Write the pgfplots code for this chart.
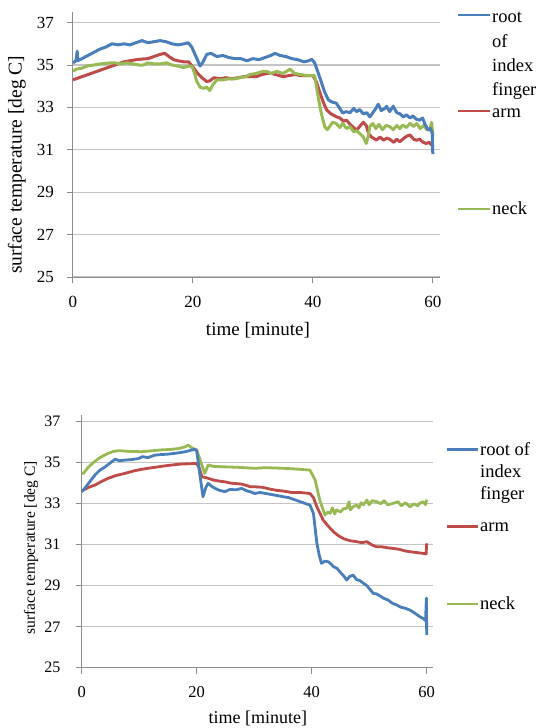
\documentclass[border=0pt]{standalone}
\usepackage{fontspec}
\setmainfont{Liberation Serif}
\usepackage{pgfplots}
\pgfplotsset{compat=1.18}
\definecolor{cblue}{HTML}{4A7EBB}
\definecolor{cred}{HTML}{BE4B48}
\definecolor{cgreen}{HTML}{98B954}
\definecolor{axgray}{HTML}{8C8C8C}
\definecolor{gridgray}{HTML}{C4C4C4}
\pgfplotsset{excel/.style={
  scale only axis,
  axis lines*=left,
  axis line style={draw=axgray, line width=1pt, -},
  tick align=outside,
  major tick length=6pt,
  tick style={draw=axgray, line width=1pt},
  ymajorgrids,
  grid style={draw=gridgray, line width=1.2pt},
  xmin=0, ymin=25,
  xtick={0,20,40,60},
  ytick={25,27,29,31,33,35,37},
  /pgf/number format/assume math mode=true,
  every axis plot/.append style={line width=3pt, line join=round, no markers},
}}
\begin{document}
\begin{tikzpicture}
\useasboundingbox (0,0) rectangle (540pt,-728pt);
% ---------------- top chart ----------------
\begin{axis}[excel,
  at={(73pt,-277pt)}, anchor=south west,
  width=367pt, height=265pt,
  xmax=61.2, ymax=37.5,
  yticklabel style={font=\fontsize{17}{17}\selectfont, anchor=east, inner sep=0pt, xshift=-13pt},
  xticklabel style={font=\fontsize{17}{17}\selectfont, anchor=north, inner sep=0pt, yshift=-13pt},
  xlabel={time [minute]},
  ylabel={surface temperature [deg C]},
  xlabel style={font=\fontsize{19}{19}\selectfont, at={(axis description cs:0.504,-0.2)}, anchor=center},
  ylabel style={font=\fontsize{19.5}{19.5}\selectfont, at={(axis description cs:-0.153,0.423)}, anchor=center, rotate=0},
]
\addplot[cred] coordinates {
(0,34.3) (0.5,34.35) (1.5,34.45) (2.5,34.55) (3.5,34.65) (4.5,34.75) (5.5,34.85) (6.5,34.95) (7.5,35.05) (8.5,35.15) (9.5,35.2) (10.5,35.25) (11.5,35.28) (12.5,35.3) (13.5,35.4) (14.5,35.5) (15.3,35.55) (16,35.4) (16.8,35.25) (17.5,35.2) (18.5,35.15) (19.3,35.15) (20,34.9) (20.8,34.6) (21.5,34.4) (22.3,34.22) (22.8,34.25) (23.5,34.4) (24.5,34.35) (25.5,34.4) (26.5,34.35) (27.5,34.4) (28.5,34.45) (29.5,34.45) (30.6,34.45) (31.5,34.55) (32.8,34.62) (33.8,34.55) (35,34.45) (36,34.5) (37,34.55) (38,34.5) (39,34.5) (40,34.5) (40.6,34.2) (41.2,33.67) (41.8,33.2) (42.3,32.88) (43,32.7) (43.9,32.56) (44.5,32.5) (45.1,32.35) (45.6,32.4) (46.2,32.2) (46.8,32.05) (47.3,31.93) (47.8,32.1) (48.4,32.3) (48.9,32.15) (49.3,31.75) (49.8,31.6) (50.6,31.46) (51.2,31.6) (51.8,31.45) (52.3,31.55) (52.8,31.5) (53.5,31.35) (54,31.5) (54.5,31.38) (55.2,31.55) (55.7,31.65) (56.2,31.7) (56.8,31.5) (57.3,31.45) (57.8,31.5) (58.4,31.35) (58.9,31.3) (59.4,31.35) (59.8,31.23) (60,31.15)
};
\addplot[cgreen] coordinates {
(0,34.7) (0.5,34.8) (1.5,34.85) (2.3,34.95) (3.5,35.0) (4.5,35.05) (5.5,35.08) (6.2,35.1) (7,35.1) (8,35.05) (9,35.1) (10,35.05) (11,35.0) (11.7,35.0) (12.5,35.1) (13.5,35.05) (14.5,35.05) (15.6,35.1) (16.5,35.0) (17.5,34.95) (18.4,34.88) (19.2,34.95) (19.8,34.95) (20.3,34.6) (20.6,34.25) (21.2,33.95) (21.8,33.9) (22.3,33.95) (22.8,33.8) (23.4,34.1) (24,34.3) (25,34.3) (26,34.35) (27,34.35) (27.8,34.4) (28.8,34.45) (29.5,34.55) (30.5,34.6) (31.7,34.7) (32.3,34.7) (33,34.6) (34,34.7) (35,34.6) (36.2,34.8) (37,34.6) (38,34.55) (39,34.5) (39.5,34.5) (40.3,34.5) (40.7,33.8) (41.2,33.0) (41.6,32.5) (42,32.08) (42.4,31.95) (42.8,32.1) (43.3,32.3) (43.9,32.24) (44.5,32.05) (45,32.25) (45.6,32.0) (46.2,32.1) (46.8,31.85) (47.3,31.9) (47.8,31.77) (48.4,31.6) (48.9,31.3) (49.2,31.6) (49.5,32.1) (50,32.24) (50.5,32.0) (51,32.2) (51.6,31.95) (52.2,32.15) (52.8,32.1) (53.4,31.95) (54,32.15) (54.5,32.0) (55,32.17) (55.6,32.05) (56.2,32.25) (56.8,32.1) (57.3,32.24) (57.9,32.0) (58.5,32.15) (59,31.95) (59.5,31.93) (59.8,32.3) (60,31.7)
};
\addplot[cblue] coordinates {
(0,35.1) (0.5,35.2) (0.7,35.65) (0.8,35.2) (1.5,35.3) (2.5,35.45) (3.5,35.6) (4.5,35.75) (5.5,35.85) (6.5,36.0) (7.5,35.95) (8.5,36.0) (9.5,35.95) (10.5,36.05) (11.5,36.15) (12.5,36.05) (13.5,36.1) (14.5,36.15) (15.5,36.1) (16.5,36.0) (17.5,35.95) (18.5,36.0) (19.2,36.05) (19.8,35.85) (20.5,35.4) (21.2,34.95) (21.6,35.1) (22.3,35.5) (23,35.55) (24,35.4) (25,35.45) (26,35.35) (27,35.3) (28,35.3) (29,35.2) (30,35.3) (31,35.25) (32,35.35) (33,35.45) (33.7,35.55) (34.5,35.45) (35.5,35.4) (36.5,35.3) (37.5,35.25) (38.5,35.15) (39.3,35.2) (39.8,35.27) (40.3,35.1) (40.8,34.7) (41.4,34.2) (42,33.7) (42.6,33.35) (43.2,33.25) (43.9,33.2) (44.5,32.95) (45,32.73) (45.5,32.8) (46.2,32.75) (46.8,32.95) (47.3,32.8) (47.8,32.9) (48.4,32.7) (49,32.75) (49.5,32.55) (50,32.75) (50.5,32.95) (50.9,33.15) (51.4,32.85) (52,32.95) (52.3,33.05) (52.8,32.8) (53.4,33.05) (54,32.75) (54.5,32.7) (55.1,32.55) (55.6,32.65) (56.2,32.5) (56.7,32.6) (57.2,32.45) (57.8,32.4) (58.3,32.5) (58.7,32.2) (59.2,31.95) (59.6,32.0) (59.9,31.8) (60,30.8)
};
\end{axis}
% top legend
\begin{scope}[font=\fontsize{18.5}{18.5}\selectfont]
\draw[cblue, line width=2.5pt] (458pt,-15pt) -- (490pt,-15pt);
\node[anchor=base west, inner sep=0pt] at (492pt,-23pt) {root};
\node[anchor=base west, inner sep=0pt] at (492pt,-47pt) {of};
\node[anchor=base west, inner sep=0pt] at (492pt,-71pt) {index};
\node[anchor=base west, inner sep=0pt] at (492pt,-95pt) {finger};
\draw[cred, line width=2.5pt] (458pt,-111pt) -- (490pt,-111pt);
\node[anchor=base west, inner sep=0pt] at (492pt,-117pt) {arm};
\draw[cgreen, line width=2.5pt] (458pt,-209pt) -- (490pt,-209pt);
\node[anchor=base west, inner sep=0pt] at (492pt,-214pt) {neck};
\end{scope}
% ---------------- bottom chart ----------------
\begin{axis}[excel,
  at={(81.7pt,-667.7pt)}, anchor=south west,
  width=351.6pt, height=252.7pt,
  xmax=61.15, ymax=37.33,
  every axis plot/.append style={line width=2.8pt},
  yticklabel style={font=\fontsize{16}{16}\selectfont, anchor=east, inner sep=0pt, xshift=-15pt},
  xticklabel style={font=\fontsize{16.5}{16.5}\selectfont, anchor=north, inner sep=0pt, yshift=-13pt},
  xlabel={time [minute]},
  ylabel={surface temperature [deg C]},
  xlabel style={font=\fontsize{18}{18}\selectfont, at={(axis description cs:0.501,-0.2)}, anchor=center},
  ylabel style={font=\fontsize{15.5}{15.5}\selectfont, at={(axis description cs:-0.144,0.474)}, anchor=center, rotate=0},
]
\addplot[cred] coordinates {
(0,33.6) (0.3,33.67) (1.2,33.8) (2.3,33.91) (3.4,34.08) (4.6,34.24) (6,34.38) (7.5,34.48) (9,34.6) (10.4,34.68) (12,34.75) (13.3,34.8) (14.5,34.85) (16,34.9) (17.4,34.94) (18.7,34.95) (20,34.97) (20.5,34.7) (20.9,34.32) (21.5,34.28) (22,34.24) (23,34.15) (24,34.1) (24.9,34.07) (26,34.0) (27,33.98) (27.8,33.96) (28.8,33.88) (29.3,33.83) (30.1,33.83) (31.5,33.8) (33,33.7) (34,33.65) (35.1,33.62) (36.5,33.55) (38,33.55) (39.7,33.5) (40.3,33.3) (40.9,32.85) (41.5,32.5) (42,32.2) (42.9,31.9) (43.8,31.63) (44.6,31.45) (45.5,31.3) (46.6,31.2) (47.8,31.15) (48.7,31.1) (49.6,31.15) (50.4,31.0) (51.3,30.9) (52.2,30.9) (53.2,30.85) (54.2,30.82) (55.2,30.78) (56.2,30.7) (57.1,30.66) (58.2,30.62) (59.4,30.58) (59.9,30.55) (60,31.07)
};
\addplot[cgreen] coordinates {
(0,34.5) (0.3,34.48) (1.2,34.8) (2,35.0) (2.9,35.2) (3.8,35.35) (4.6,35.46) (5.5,35.55) (6.4,35.59) (7.5,35.57) (8.5,35.55) (10.4,35.54) (12,35.58) (13.9,35.63) (15.5,35.65) (17,35.7) (18,35.78) (18.5,35.86) (19.2,35.72) (20,35.63) (20.6,35.13) (21.4,34.48) (22,34.89) (23,34.82) (24.9,34.8) (27,34.78) (30.1,34.73) (32,34.76) (35.1,34.73) (37,34.7) (39.7,34.64) (40.6,34.16) (41.4,33.18) (42.3,32.45) (42.8,32.6) (43.2,32.53) (43.6,32.8) (44,32.5) (44.3,32.7) (45,32.6) (45.5,32.75) (46.1,32.78) (46.5,33.1) (46.7,32.7) (47.2,32.85) (47.8,32.94) (48.2,32.8) (48.6,33.05) (49,32.95) (49.6,33.18) (50,32.95) (50.5,33.15) (51.3,33.1) (52,33.0) (52.6,33.15) (53.2,32.95) (54.2,33.02) (55,33.1) (55.6,32.9) (56.3,33.05) (57.1,32.85) (57.8,33.0) (58.4,32.9) (58.8,33.02) (59.4,33.1) (59.8,32.95) (60,33.2)
};
\addplot[cblue] coordinates {
(0,33.6) (0.3,33.67) (1.2,34.0) (2.3,34.4) (3.2,34.65) (4.1,34.8) (5,35.0) (5.8,35.17) (6.6,35.1) (7.5,35.13) (8.5,35.15) (9.8,35.2) (10.6,35.3) (11.5,35.25) (12.7,35.37) (13.8,35.4) (15,35.42) (16.2,35.46) (17.2,35.5) (18.2,35.55) (19.1,35.62) (19.6,35.65) (20,35.6) (20.6,34.32) (21.1,33.34) (21.6,33.8) (22,34.0) (22.6,33.85) (23.2,33.75) (24,33.65) (24.9,33.59) (25.8,33.7) (26.8,33.68) (27.8,33.75) (28.8,33.62) (29.3,33.59) (30.1,33.5) (31,33.55) (32,33.5) (33,33.45) (34,33.4) (35.1,33.34) (36,33.3) (37,33.2) (38,33.1) (39,33.0) (39.7,32.94) (40.3,32.53) (40.9,31.07) (41.3,30.5) (41.7,30.09) (42.3,30.2) (42.9,30.17) (43.4,30.05) (43.8,29.93) (44.4,29.85) (44.9,29.68) (45.5,29.5) (46.1,29.28) (46.6,29.45) (47.2,29.52) (47.8,29.3) (48.4,29.25) (49,29.12) (49.6,29.0) (50.2,28.8) (50.7,28.63) (51.3,28.6) (51.9,28.5) (52.5,28.39) (53.3,28.3) (54,28.15) (54.8,28.06) (55.5,27.95) (56.3,27.9) (57.1,27.81) (58,27.65) (58.8,27.49) (59.4,27.4) (59.8,27.3) (59.95,28.4) (60,26.6)
};
\end{axis}
% bottom legend
\begin{scope}[font=\fontsize{18.5}{18.5}\selectfont]
\draw[cblue, line width=2.5pt] (446.7pt,-449.3pt) -- (478.3pt,-449.3pt);
\node[anchor=base west, inner sep=0pt] at (480pt,-455pt) {root of};
\node[anchor=base west, inner sep=0pt] at (480pt,-477.3pt) {index};
\node[anchor=base west, inner sep=0pt] at (480pt,-499pt) {finger};
\draw[cred, line width=2.5pt] (446.7pt,-526.7pt) -- (478.3pt,-526.7pt);
\node[anchor=base west, inner sep=0pt] at (480pt,-531.7pt) {arm};
\draw[cgreen, line width=2.5pt] (446.7pt,-604pt) -- (478.3pt,-604pt);
\node[anchor=base west, inner sep=0pt] at (480pt,-609.3pt) {neck};
\end{scope}
\end{tikzpicture}
\end{document}
